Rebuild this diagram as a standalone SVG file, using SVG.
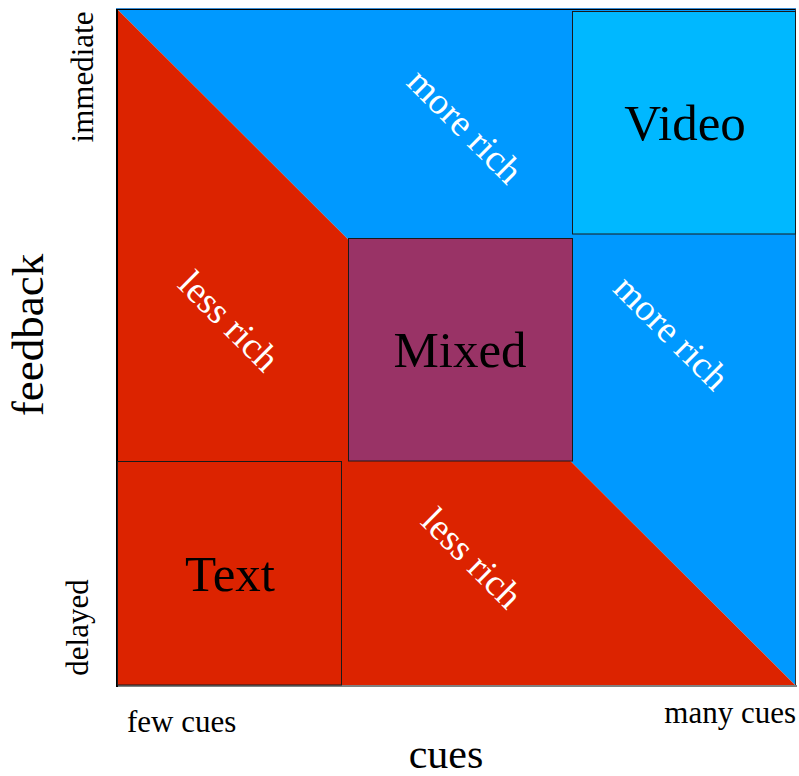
<svg xmlns="http://www.w3.org/2000/svg" width="799" height="776" viewBox="0 0 799 776">
  <style>
    text { font-family: "Liberation Serif", "Times New Roman", serif; }
    .axis { fill: #000; }
    .zone { fill: #fff; font-size: 37.5px; text-anchor: middle; }
    .box { stroke: #1a1a1a; stroke-width: 1; }
    .boxlabel { fill: #000; font-size: 51px; text-anchor: middle; }
  </style>

  <rect width="799" height="776" fill="#fff"/>

  <!-- Plot area: richness split along the diagonal -->
  <g id="plot">
    <polygon points="117,9 796,9 796,686" fill="#0099ff"/>
    <polygon points="117,9 796,686 117,686" fill="#dc2300"/>
  </g>

  <!-- Frame lines of the plot -->
  <g id="axes">
    <line x1="116" y1="8.5" x2="796" y2="8.5" stroke="#3c8fd6" stroke-width="1"/>
    <line x1="117" y1="9.5" x2="796" y2="9.5" stroke="#000" stroke-width="1"/>
    <line x1="795.5" y1="9" x2="795.5" y2="686" stroke="#333" stroke-width="1"/>
    <line x1="116" y1="686" x2="797" y2="686" stroke="#808080" stroke-width="2"/>
    <line x1="117" y1="9" x2="117" y2="687" stroke="#000" stroke-width="2"/>
  </g>

  <!-- Zone labels -->
  <g id="zone-labels">
    <text class="zone" transform="translate(465,126) rotate(45)" y="12.5">more rich</text>
    <text class="zone" transform="translate(671.5,332.5) rotate(45)" y="12.5">more rich</text>
    <text class="zone" transform="translate(229,321) rotate(45)" y="12.5">less rich</text>
    <text class="zone" transform="translate(472,558) rotate(45)" y="12.5">less rich</text>
  </g>

  <g id="video">
    <rect class="box" x="572.5" y="11.5" width="223" height="222.5" fill="#00b8ff"/>
    <text class="boxlabel" x="685" y="140">Video</text>
  </g>

  <g id="mixed">
    <rect class="box" x="348.5" y="238.5" width="224" height="222.5" fill="#993366"/>
    <text class="boxlabel" x="460" y="367">Mixed</text>
  </g>

  <g id="text">
    <rect class="box" x="117.5" y="461.5" width="224" height="223.5" fill="#dc2300"/>
    <text class="boxlabel" x="230" y="591">Text</text>
  </g>

  <!-- Axis titles and end labels -->
  <g id="axis-labels">
    <text class="axis" font-size="45" text-anchor="middle" transform="translate(43,335) rotate(-90)">feedback</text>
    <text class="axis" font-size="31" text-anchor="middle" transform="translate(93,77) rotate(-90)">immediate</text>
    <text class="axis" font-size="31" text-anchor="middle" transform="translate(88,627.5) rotate(-90)">delayed</text>
    <text class="axis" font-size="31" x="127" y="732">few cues</text>
    <text class="axis" font-size="31" x="796" y="723" text-anchor="end">many cues</text>
    <text class="axis" font-size="42" x="446" y="768" text-anchor="middle">cues</text>
  </g>
</svg>
